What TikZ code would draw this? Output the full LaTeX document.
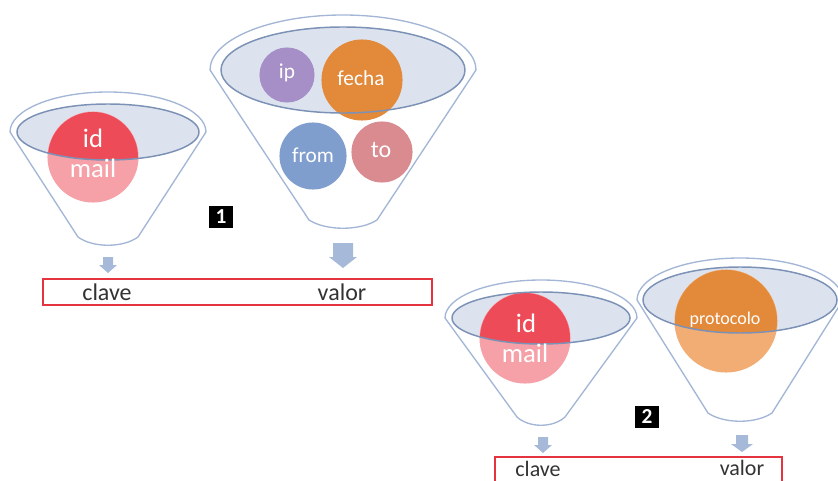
\documentclass[tikz,border=0pt]{standalone}
\usepackage{fontspec}
\setmainfont{Carlito}
\usetikzlibrary{positioning}

\definecolor{rimline}{HTML}{A3B6D6}
\definecolor{rimedge}{HTML}{7C91B6}
\definecolor{rimfill}{HTML}{DCE3EF}
\definecolor{reddark}{HTML}{EE4B58}
\definecolor{redlight}{HTML}{F6A1A7}
\definecolor{orangedark}{HTML}{E2893A}
\definecolor{orangelight}{HTML}{F1AD73}
\definecolor{ipcol}{HTML}{A68EC7}
\definecolor{fromcol}{HTML}{7F9ECE}
\definecolor{tocol}{HTML}{D98B8F}
\definecolor{arrowcol}{HTML}{A7B9D9}
\definecolor{boxred}{HTML}{E63340}
\definecolor{labeltext}{HTML}{333333}

\tikzset{
	funnelbody/.style={draw=rimline, line width=1pt, fill=white},
	funnelrim/.style={draw=rimedge, line width=1.1pt},
	ball/.style={draw=white, line width=0.8pt},
	balltext/.style={text=white, inner sep=0pt, font=\fontsize{20}{21}\selectfont},
	smalltext/.style={text=white, inner sep=0pt, font=\fontsize{16}{17}\selectfont},
	keybox/.style={draw=boxred, line width=1.5pt},
	keytext/.style={text=labeltext, inner sep=0pt, font=\fontsize{18}{19}\selectfont},
	numbox/.style={fill=black, text=white, inner sep=0pt, minimum width=18.5pt, minimum height=16.5pt, font=\bfseries\fontsize{16}{16}\selectfont}
}

% funnel: cx, cy, rx, ry, inner rx, inner ry, bottom y, bottom half width
\newcommand{\funnelshape}[8]{%
	\filldraw[funnelbody] ({#1-#3},#2) arc[start angle=180, end angle=360, x radius=#3, y radius=#4]
		-- ({#1+#8},{#7-10}) .. controls ({#1+#8*0.5},{#7+1}) and ({#1-#8*0.5},{#7+1}) .. ({#1-#8},{#7-10}) -- cycle;
	\fill[rimfill] (#1,#2) ellipse[x radius=#5, y radius=#6];
}
% block arrow: x, top y, bottom y, shaft half width, head half width, head length
\newcommand{\blockarrow}[6]{%
	\fill[arrowcol] ({#1-#4},#2) -- ({#1+#4},#2) -- ({#1+#4},{#3-#6}) -- ({#1+#5},{#3-#6})
		-- (#1,#3) -- ({#1-#5},{#3-#6}) -- ({#1-#4},{#3-#6}) -- cycle;
}

\begin{document}
\begin{tikzpicture}[x=0.75pt, y=-0.75pt]
	
	\useasboundingbox (0,0) rectangle (838,481);
	
	% funnel 1: clave
	\funnelshape{108}{132}{98}{40}{91}{28}{247}{30}
	\fill[ball, redlight] (93,157) circle (45);
	\begin{scope}
		\clip (108,132) ellipse[x radius=91, y radius=28];
		\fill[reddark] (93,157) circle (45);
	\end{scope}
	\draw[funnelrim] (108,132) ellipse[x radius=91, y radius=28];
	\node[balltext] (id1) at (93,138) {id};
	\node[balltext] (mail1) at (93,168) {mail};
	
	% funnel 2: valor
	\funnelshape{343}{70}{133}{55}{122}{43}{230}{34}
	\fill[ball, ipcol] (287,75) circle (27);
	\fill[ball, orangedark] (362,80) circle (40);
	\draw[funnelrim] (343,70) ellipse[x radius=122, y radius=43];
	\fill[ball, fromcol] (313,156) circle (33);
	\fill[ball, tocol] (382,152) circle (30);
	\node[smalltext] (ip) at (287,73) {ip};
	\node[smalltext] (fecha) at (361,78) {fecha};
	\node[smalltext] (from) at (313,155) {from};
	\node[smalltext, font=\fontsize{18}{19}\selectfont] (to) at (381,150) {to};
	
	\node[numbox] (n1) at (221,217) {1};
	
	\blockarrow{108}{257}{273}{5}{9}{8}
	\blockarrow{343}{243}{268}{10}{14}{11}
	
	\draw[keybox] (43,279) rectangle (432,305);
	\node[keytext] (clave1) at (107,292) {clave};
	\node[keytext] (valor1) at (342,292) {valor};
	
	% funnel 3: clave
	\funnelshape{541}{318}{96}{38}{89}{26}{427}{24}
	\fill[ball, redlight] (525,338) circle (45);
	\begin{scope}
		\clip (541,318) ellipse[x radius=89, y radius=26];
		\fill[reddark] (525,338) circle (45);
	\end{scope}
	\draw[funnelrim] (541,318) ellipse[x radius=89, y radius=26];
	\node[balltext] (id2) at (526,323) {id};
	\node[balltext] (mail2) at (525,353) {mail};
	
	% funnel 4: valor
	\funnelshape{740}{300}{103}{42}{97}{33}{423}{32}
	\fill[ball, orangelight] (726,321) circle (51);
	\begin{scope}
		\clip (740,300) ellipse[x radius=97, y radius=33];
		\fill[orangedark] (726,321) circle (51);
	\end{scope}
	\draw[funnelrim] (740,300) ellipse[x radius=97, y radius=33];
	\node[text=white, inner sep=0pt, font=\fontsize{13.5}{14}\selectfont] (protocolo) at (725,320) {protocolo};
	
	\node[numbox] (n2) at (647,417) {2};
	
	\blockarrow{543}{437}{453}{5}{9}{8}
	\blockarrow{742}{435}{452}{6}{11}{8}
	
	\draw[keybox] (495,457) rectangle (782,486);
	\node[keytext, font=\fontsize{16.5}{17}\selectfont] (clave2) at (538,469) {clave};
	\node[keytext, font=\fontsize{16.5}{17}\selectfont] (valor2) at (742,468) {valor};
	
\end{tikzpicture}
\end{document}
